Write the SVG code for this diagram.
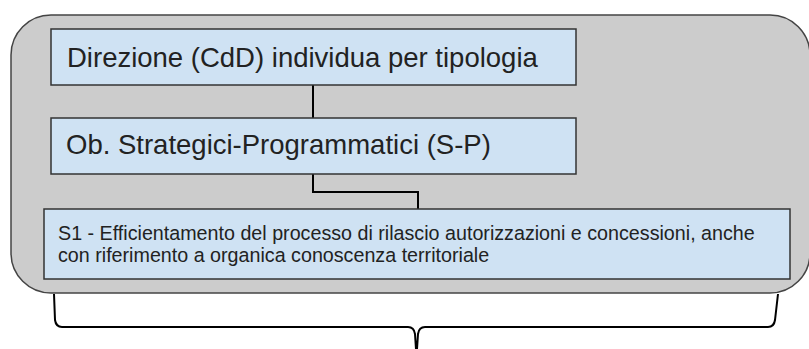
<svg xmlns="http://www.w3.org/2000/svg" width="809" height="349" viewBox="0 0 809 349">
<style>
.box{fill:#cfe2f3;stroke:#333333;stroke-width:1.5}
.t{font-family:"Liberation Sans",Arial,sans-serif;fill:#222222}
.line{fill:none;stroke:#000000;stroke-width:2}
</style>
<rect width="809" height="349" fill="#ffffff"/>
<g id="container">
<rect x="11" y="15" width="799" height="278" rx="40" ry="40" fill="#cccccc" stroke="#444444" stroke-width="1.5"/>
</g>
<g id="connectors">
<path class="line" d="M313 85 V118"/>
<path class="line" d="M313 174 V192 H418 V209"/>
</g>
<g id="n1">
<rect class="box" x="51" y="29" width="525" height="56"/>
<text class="t" x="67" y="67" font-size="27.5">Direzione (CdD) individua per tipologia</text>
</g>
<g id="n2">
<rect class="box" x="51" y="118" width="525" height="56"/>
<text class="t" x="66" y="154" font-size="27.5">Ob. Strategici-Programmatici (S-P)</text>
</g>
<g id="n3">
<rect class="box" x="44" y="209" width="746" height="70"/>
<text class="t" x="58" y="240" font-size="19.7" fill="#333333">S1 - Efficientamento del processo di rilascio autorizzazioni e concessioni, anche</text>
<text class="t" x="58" y="262" font-size="19.7" fill="#333333">con riferimento a organica conoscenza territoriale</text>
</g>
<g id="brace">
<path class="line" d="M54 294 L55 320 Q56 327 62 327 H408 Q414 327 415 334 L416 349 M417 349 L418 334 Q419 327 425 327 H768 Q774 327 775 320 L778 294"/>
</g>
</svg>
